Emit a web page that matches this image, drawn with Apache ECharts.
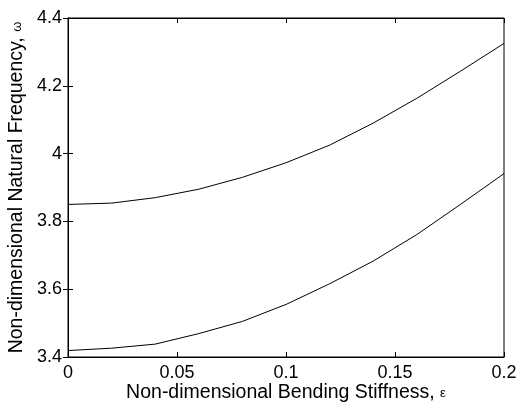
<!DOCTYPE html>
<html>
<head>
<meta charset="utf-8">
<script src="https://cdn.jsdelivr.net/npm/echarts@6/dist/echarts.min.js"></script>
<style>
html,body{margin:0;padding:0;background:#fff;}
#c{width:518px;height:403px;}
</style>
</head>
<body>
<div id="c"></div>
<script>
const epsilon = [0, 0.02, 0.04, 0.06, 0.08, 0.1, 0.12, 0.14, 0.16, 0.18, 0.2];
const upperMode = [3.85, 3.854, 3.87, 3.895, 3.93, 3.973, 4.025, 4.09, 4.163, 4.243, 4.325];
const lowerMode = [3.419, 3.426, 3.438, 3.469, 3.505, 3.555, 3.616, 3.683, 3.761, 3.85, 3.941];
const xTicks = [0, 0.05, 0.1, 0.15, 0.2];
const yTicks = [3.4, 3.6, 3.8, 4, 4.2, 4.4];

const font = 'Arial, "Liberation Sans", sans-serif';
const chart = echarts.init(document.getElementById('c'));
const pair = arr => epsilon.map((x, i) => [x, arr[i]]);
const axisLine = {show: true, lineStyle: {color: '#000', width: 1}};
const axisTick = {show: true, inside: true, length: 5, lineStyle: {color: '#000', width: 1}};

chart.setOption({
  backgroundColor: '#fff',
  animation: false,
  grid: {left: 68, right: 14, top: 18, bottom: 46, show: true, borderColor: '#000', borderWidth: 1,
         containLabel: false, outerBoundsMode: 'none'},
  xAxis: [{
    type: 'value', min: 0, max: 0.2, interval: 0.05,
    axisLine, axisTick, splitLine: {show: false},
    axisLabel: {color: '#000', fontSize: 18, fontFamily: font, margin: 7,
      formatter: v => { const t = xTicks.find(k => Math.abs(k - v) < 1e-9); return t === undefined ? '' : String(t); }},
    name: 'Non-dimensional Bending Stiffness, {s|ε}',
    nameLocation: 'middle', nameGap: 26, nameMoveOverlap: false,
    nameTextStyle: {color: '#000', fontSize: 19.5, fontFamily: font,
      rich: {s: {fontSize: 13, fontFamily: font, color: '#000'}}}
  }, {
    type: 'value', position: 'top', min: 0, max: 0.2, interval: 0.05,
    axisLine, axisTick, axisLabel: {show: false}, splitLine: {show: false}
  }],
  yAxis: [{
    type: 'value', min: 3.4, max: 4.4, interval: 0.2,
    axisLine, axisTick, splitLine: {show: false},
    axisLabel: {color: '#000', fontSize: 18, fontFamily: font, margin: 6,
      formatter: v => { const t = yTicks.find(k => Math.abs(k - v) < 1e-9); return t === undefined ? '' : String(t); }},
    name: 'Non-dimensional Natural Frequency, {s|ω}',
    nameLocation: 'middle', nameGap: 41, nameMoveOverlap: false,
    nameTextStyle: {color: '#000', fontSize: 19.5, fontFamily: font,
      rich: {s: {fontSize: 13, fontFamily: font, color: '#000'}}}
  }, {
    type: 'value', position: 'right', min: 3.4, max: 4.4, interval: 0.2,
    axisLine, axisTick, axisLabel: {show: false}, splitLine: {show: false}
  }],
  series: [
    {type: 'line', data: pair(upperMode), showSymbol: false, smooth: false,
     lineStyle: {color: '#000', width: 1}},
    {type: 'line', data: pair(lowerMode), showSymbol: false, smooth: false,
     lineStyle: {color: '#000', width: 1}}
  ]
});
</script>
</body>
</html>
